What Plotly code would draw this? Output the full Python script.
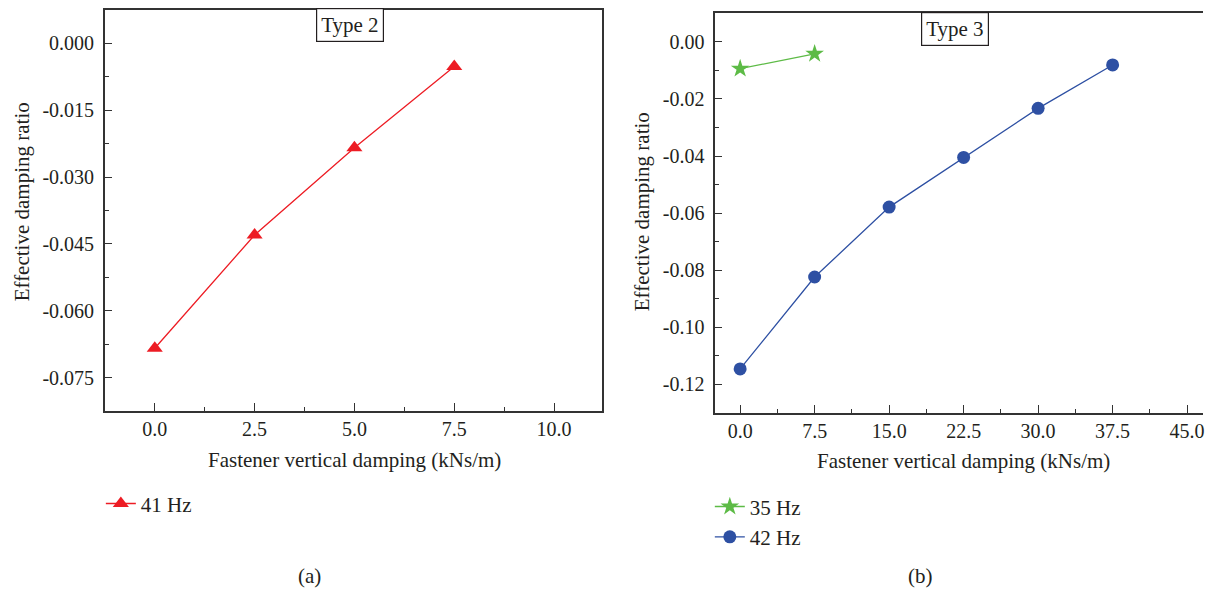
import plotly.graph_objects as go

# ---- data ----
x_type2 = [0.0, 2.5, 5.0, 7.5]
y_41hz = [-0.0684, -0.0430, -0.0234, -0.0052]

x_35hz = [0.0, 7.5]
y_35hz = [-0.0094, -0.0042]

x_42hz = [0.0, 7.5, 15.0, 22.5, 30.0, 37.5]
y_42hz = [-0.1146, -0.0824, -0.0579, -0.0405, -0.0233, -0.0081]

xticks_a = [0.0, 2.5, 5.0, 7.5, 10.0]
yticks_a = [0.000, -0.015, -0.030, -0.045, -0.060, -0.075]
xticks_b = [0.0, 7.5, 15.0, 22.5, 30.0, 37.5, 45.0]
yticks_b = [0.00, -0.02, -0.04, -0.06, -0.08, -0.10, -0.12]

OFF = 8  # browser body margin
W, H = 1213 - 2 * OFF, 597 - 2 * OFF   # fit in the window without scrollbars
FONT = "Liberation Serif"
AX = "#333333"
TXT = "#231f20"
RED = "#ed1c24"
GREEN = "#5dbb46"
BLUE = "#2e50a3"
FS = 20
FT = 21

fig = go.Figure()
fig.add_trace(go.Scatter(x=x_type2, y=y_41hz, mode="lines+markers", name="41 Hz",
                         line=dict(color=RED, width=1.3),
                         marker=dict(symbol="triangle-up", size=14, color=RED),
                         xaxis="x", yaxis="y", legend="legend"))
fig.add_trace(go.Scatter(x=x_35hz, y=y_35hz, mode="lines+markers", name="35 Hz",
                         line=dict(color=GREEN, width=1.3),
                         marker=dict(symbol="star", size=14, color=GREEN),
                         xaxis="x2", yaxis="y2", legend="legend2"))
fig.add_trace(go.Scatter(x=x_42hz, y=y_42hz, mode="lines+markers", name="42 Hz",
                         line=dict(color=BLUE, width=1.3),
                         marker=dict(symbol="circle", size=13, color=BLUE),
                         xaxis="x2", yaxis="y2", legend="legend2"))

def px(xp):
    return min((xp - OFF) / W, 1.0)

def py(yp):
    return 1 - (yp - OFF) / H

axis_common = dict(showline=True, linecolor=AX, linewidth=1.5, ticks="inside",
                   tickcolor=AX, tickwidth=1.2, showgrid=False, zeroline=False,
                   ticklabeloverflow="allow",
                   tickfont=dict(family=FONT, size=FS, color=TXT))

fig.update_layout(
    width=W, height=H, margin=dict(l=0, r=0, t=0, b=0),
    paper_bgcolor="white", plot_bgcolor="white",
    font=dict(family=FONT, size=FS, color=TXT),
    xaxis=dict(domain=[px(105), px(603)], range=[-1.25, 11.2], tickvals=xticks_a,
               ticktext=[f"{v:.1f}" for v in xticks_a], ticklen=8, mirror=True,
               minor=dict(ticks="inside", ticklen=4, dtick=1.25, tick0=0, tickcolor=AX),
               anchor="y", **axis_common),
    yaxis=dict(domain=[py(410), py(8)], range=[-0.0824, 0.0075], tickvals=yticks_a,
               ticktext=[f"{v:.3f}" for v in yticks_a], ticklen=7, mirror=True,
               minor=dict(ticks="inside", ticklen=4, dtick=0.0075, tick0=0, tickcolor=AX),
               anchor="x", ticklabelstandoff=5, **axis_common),
    xaxis2=dict(domain=[px(716.4), px(1205)], range=[-2.51, 46.6], tickvals=xticks_b,
                ticktext=[f"{v:.1f}" for v in xticks_b], ticklen=8, mirror=True,
                minor=dict(ticks="inside", ticklen=4, dtick=3.75, tick0=0, tickcolor=AX),
                anchor="y2", **axis_common),
    yaxis2=dict(domain=[py(412), py(11.3)], range=[-0.1299, 0.0100], tickvals=yticks_b,
                ticktext=[f"{v:.2f}" for v in yticks_b], ticklen=7, mirror=False,
                minor=dict(ticks="inside", ticklen=4, dtick=0.01, tick0=0, tickcolor=AX),
                anchor="x2", ticklabelstandoff=5, **axis_common),
    legend=dict(x=px(101), y=py(483), xanchor="left", yanchor="top",
                bgcolor="rgba(0,0,0,0)", font=dict(family=FONT, size=FT, color=TXT),
                itemwidth=30, tracegroupgap=0),
    legend2=dict(x=px(711), y=py(486), xanchor="left", yanchor="top",
                 bgcolor="rgba(0,0,0,0)", font=dict(family=FONT, size=FT, color=TXT),
                 itemwidth=30, tracegroupgap=0),
    showlegend=True,
)

ann = []
ann.append(dict(x=px(355), y=py(460), text="Fastener vertical damping (kNs/m)"))
ann.append(dict(x=px(965), y=py(461), text="Fastener vertical damping (kNs/m)"))
ann.append(dict(x=px(22), y=py(200), text="Effective damping ratio", textangle=-90))
ann.append(dict(x=px(643), y=py(210), text="Effective damping ratio", textangle=-90))
ann.append(dict(x=px(310), y=py(576), text="(a)"))
ann.append(dict(x=px(922), y=py(576), text="(b)"))
for a in ann:
    a.update(xref="paper", yref="paper", showarrow=False, xanchor="center", yanchor="middle",
             font=dict(family=FONT, size=FT, color=TXT))
    fig.add_annotation(**a)

for cx, cy, t in [(351, 23, "Type 2"), (957, 27, "Type 3")]:
    fig.add_annotation(x=px(cx), y=py(cy), xref="paper", yref="paper", text=t, showarrow=False,
                       xanchor="center", yanchor="middle", bordercolor=TXT, borderwidth=1.2,
                       borderpad=4, bgcolor="white",
                       font=dict(family=FONT, size=FT, color=TXT))

fig.write_html("out.html")
